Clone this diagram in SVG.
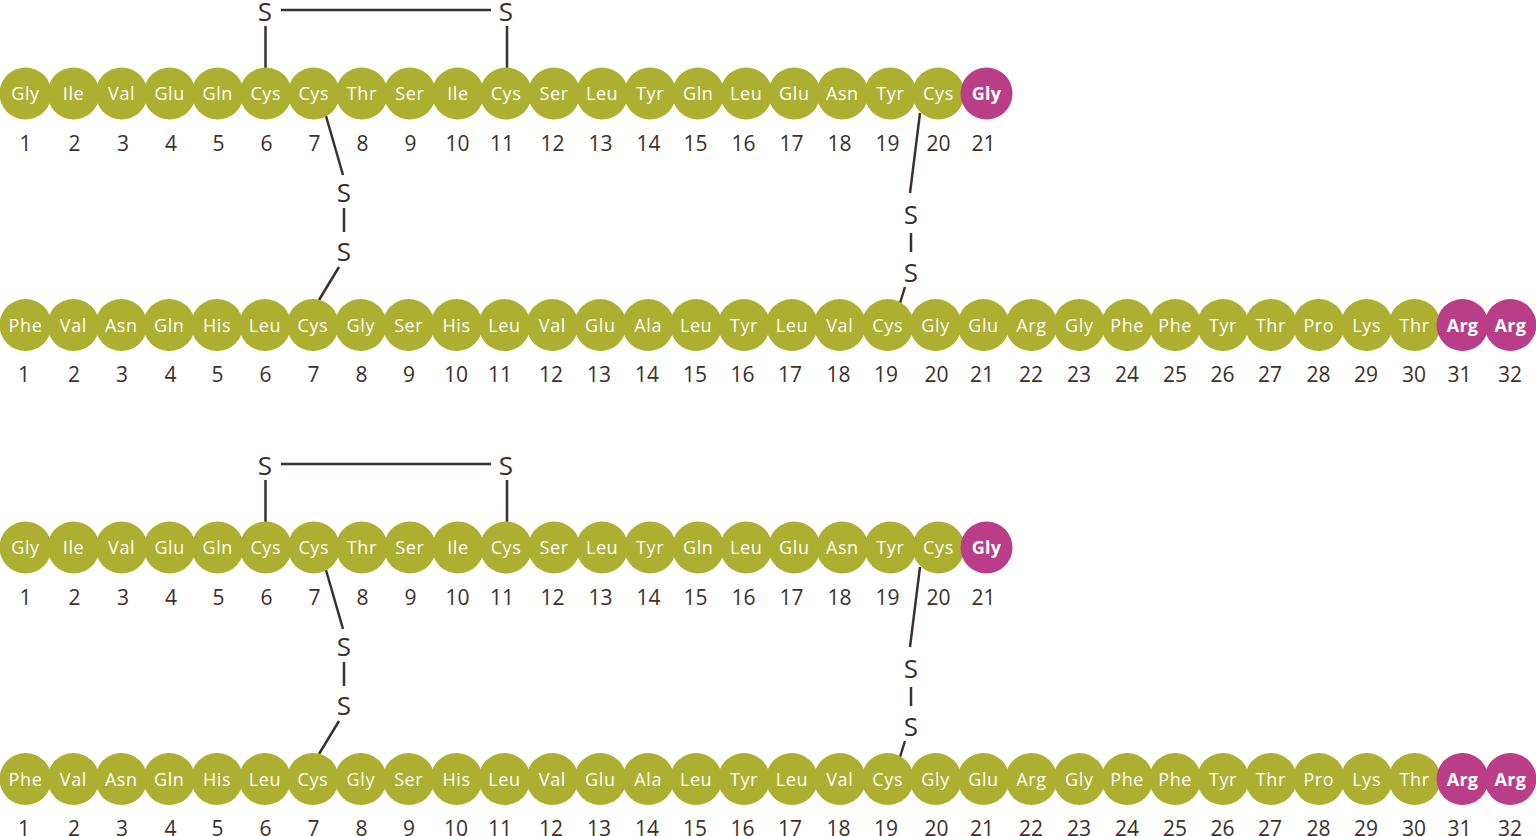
<svg xmlns="http://www.w3.org/2000/svg" width="1536" height="836" viewBox="0 0 1536 836">
<style>
.n circle{fill:#ADAF31}
.m circle{fill:#B93D87}
.n text,.m text{fill:#fff;font-family:"Open Sans","Liberation Sans",sans-serif;font-size:18px;letter-spacing:0.6px;text-anchor:middle}
.m text{font-weight:bold;letter-spacing:0.3px}
.num{fill:#3B302E;font-family:"Open Sans","Liberation Sans",sans-serif;font-size:21px;text-anchor:middle}
.s{fill:#3B302E;font-family:"Open Sans","Liberation Sans",sans-serif;font-size:26px;text-anchor:middle}
.c line{stroke:#3B302E;stroke-width:2.5;fill:none}
</style>
<rect width="1536" height="836" fill="#fff"/>
<g id="top">
<g id="top-connectors" class="c">
<line x1="281" y1="10" x2="491" y2="10"/>
<line x1="265.5" y1="26" x2="265.5" y2="68"/>
<line x1="507" y1="26" x2="507" y2="68"/>
<line x1="326" y1="116" x2="343" y2="175"/>
<line x1="344" y1="208" x2="344" y2="232"/>
<line x1="339" y1="267" x2="319" y2="300"/>
<line x1="920" y1="113" x2="910" y2="193"/>
<line x1="911" y1="233" x2="911" y2="252"/>
<line x1="905" y1="287" x2="900" y2="303"/>
</g>
<g id="top-sulfur">
<text class="s" x="265" y="20.5">S</text>
<text class="s" x="506" y="20.5">S</text>
<text class="s" x="344" y="202">S</text>
<text class="s" x="344" y="261">S</text>
<text class="s" x="911" y="224">S</text>
<text class="s" x="911" y="282">S</text>
</g>
<g id="top-chainA">
<g id="tA1" class="n"><circle cx="25.5" cy="93.5" r="26"/><text x="25.5" y="100">Gly</text></g>
<g id="tA2" class="n"><circle cx="73.55" cy="93.5" r="26"/><text x="73.55" y="100">Ile</text></g>
<g id="tA3" class="n"><circle cx="121.6" cy="93.5" r="26"/><text x="121.6" y="100">Val</text></g>
<g id="tA4" class="n"><circle cx="169.65" cy="93.5" r="26"/><text x="169.65" y="100">Glu</text></g>
<g id="tA5" class="n"><circle cx="217.7" cy="93.5" r="26"/><text x="217.7" y="100">Gln</text></g>
<g id="tA6" class="n"><circle cx="265.75" cy="93.5" r="26"/><text x="265.75" y="100">Cys</text></g>
<g id="tA7" class="n"><circle cx="313.8" cy="93.5" r="26"/><text x="313.8" y="100">Cys</text></g>
<g id="tA8" class="n"><circle cx="361.85" cy="93.5" r="26"/><text x="361.85" y="100">Thr</text></g>
<g id="tA9" class="n"><circle cx="409.9" cy="93.5" r="26"/><text x="409.9" y="100">Ser</text></g>
<g id="tA10" class="n"><circle cx="457.95" cy="93.5" r="26"/><text x="457.95" y="100">Ile</text></g>
<g id="tA11" class="n"><circle cx="506" cy="93.5" r="26"/><text x="506" y="100">Cys</text></g>
<g id="tA12" class="n"><circle cx="554.05" cy="93.5" r="26"/><text x="554.05" y="100">Ser</text></g>
<g id="tA13" class="n"><circle cx="602.1" cy="93.5" r="26"/><text x="602.1" y="100">Leu</text></g>
<g id="tA14" class="n"><circle cx="650.15" cy="93.5" r="26"/><text x="650.15" y="100">Tyr</text></g>
<g id="tA15" class="n"><circle cx="698.2" cy="93.5" r="26"/><text x="698.2" y="100">Gln</text></g>
<g id="tA16" class="n"><circle cx="746.25" cy="93.5" r="26"/><text x="746.25" y="100">Leu</text></g>
<g id="tA17" class="n"><circle cx="794.3" cy="93.5" r="26"/><text x="794.3" y="100">Glu</text></g>
<g id="tA18" class="n"><circle cx="842.35" cy="93.5" r="26"/><text x="842.35" y="100">Asn</text></g>
<g id="tA19" class="n"><circle cx="890.4" cy="93.5" r="26"/><text x="890.4" y="100">Tyr</text></g>
<g id="tA20" class="n"><circle cx="938.45" cy="93.5" r="26"/><text x="938.45" y="100">Cys</text></g>
<g id="tA21" class="m"><circle cx="986.5" cy="93.5" r="26"/><text x="986.5" y="100">Gly</text></g>
</g>
<g id="top-numsA">
<text class="num" x="25.5" y="151">1</text><text class="num" x="74.5" y="151">2</text><text class="num" x="123" y="151">3</text><text class="num" x="171" y="151">4</text><text class="num" x="218.5" y="151">5</text><text class="num" x="266.5" y="151">6</text><text class="num" x="314.5" y="151">7</text><text class="num" x="362.5" y="151">8</text><text class="num" x="410.5" y="151">9</text><text class="num" x="457.5" y="151">10</text><text class="num" x="502" y="151">11</text><text class="num" x="552.5" y="151">12</text><text class="num" x="600.5" y="151">13</text><text class="num" x="648.5" y="151">14</text><text class="num" x="695.5" y="151">15</text><text class="num" x="743.5" y="151">16</text><text class="num" x="791.5" y="151">17</text><text class="num" x="839.5" y="151">18</text><text class="num" x="887.5" y="151">19</text><text class="num" x="938.5" y="151">20</text><text class="num" x="983.5" y="151">21</text>
</g>
<g id="top-chainB">
<g id="tB1" class="n"><circle cx="25.5" cy="325" r="26"/><text x="25.5" y="331.5">Phe</text></g>
<g id="tB2" class="n"><circle cx="73.4" cy="325" r="26"/><text x="73.4" y="331.5">Val</text></g>
<g id="tB3" class="n"><circle cx="121.3" cy="325" r="26"/><text x="121.3" y="331.5">Asn</text></g>
<g id="tB4" class="n"><circle cx="169.2" cy="325" r="26"/><text x="169.2" y="331.5">Gln</text></g>
<g id="tB5" class="n"><circle cx="217.1" cy="325" r="26"/><text x="217.1" y="331.5">His</text></g>
<g id="tB6" class="n"><circle cx="265" cy="325" r="26"/><text x="265" y="331.5">Leu</text></g>
<g id="tB7" class="n"><circle cx="312.9" cy="325" r="26"/><text x="312.9" y="331.5">Cys</text></g>
<g id="tB8" class="n"><circle cx="360.8" cy="325" r="26"/><text x="360.8" y="331.5">Gly</text></g>
<g id="tB9" class="n"><circle cx="408.7" cy="325" r="26"/><text x="408.7" y="331.5">Ser</text></g>
<g id="tB10" class="n"><circle cx="456.6" cy="325" r="26"/><text x="456.6" y="331.5">His</text></g>
<g id="tB11" class="n"><circle cx="504.5" cy="325" r="26"/><text x="504.5" y="331.5">Leu</text></g>
<g id="tB12" class="n"><circle cx="552.4" cy="325" r="26"/><text x="552.4" y="331.5">Val</text></g>
<g id="tB13" class="n"><circle cx="600.3" cy="325" r="26"/><text x="600.3" y="331.5">Glu</text></g>
<g id="tB14" class="n"><circle cx="648.2" cy="325" r="26"/><text x="648.2" y="331.5">Ala</text></g>
<g id="tB15" class="n"><circle cx="696.1" cy="325" r="26"/><text x="696.1" y="331.5">Leu</text></g>
<g id="tB16" class="n"><circle cx="744" cy="325" r="26"/><text x="744" y="331.5">Tyr</text></g>
<g id="tB17" class="n"><circle cx="791.9" cy="325" r="26"/><text x="791.9" y="331.5">Leu</text></g>
<g id="tB18" class="n"><circle cx="839.8" cy="325" r="26"/><text x="839.8" y="331.5">Val</text></g>
<g id="tB19" class="n"><circle cx="887.7" cy="325" r="26"/><text x="887.7" y="331.5">Cys</text></g>
<g id="tB20" class="n"><circle cx="935.6" cy="325" r="26"/><text x="935.6" y="331.5">Gly</text></g>
<g id="tB21" class="n"><circle cx="983.5" cy="325" r="26"/><text x="983.5" y="331.5">Glu</text></g>
<g id="tB22" class="n"><circle cx="1031.4" cy="325" r="26"/><text x="1031.4" y="331.5">Arg</text></g>
<g id="tB23" class="n"><circle cx="1079.3" cy="325" r="26"/><text x="1079.3" y="331.5">Gly</text></g>
<g id="tB24" class="n"><circle cx="1127.2" cy="325" r="26"/><text x="1127.2" y="331.5">Phe</text></g>
<g id="tB25" class="n"><circle cx="1175.1" cy="325" r="26"/><text x="1175.1" y="331.5">Phe</text></g>
<g id="tB26" class="n"><circle cx="1223" cy="325" r="26"/><text x="1223" y="331.5">Tyr</text></g>
<g id="tB27" class="n"><circle cx="1270.9" cy="325" r="26"/><text x="1270.9" y="331.5">Thr</text></g>
<g id="tB28" class="n"><circle cx="1318.8" cy="325" r="26"/><text x="1318.8" y="331.5">Pro</text></g>
<g id="tB29" class="n"><circle cx="1366.7" cy="325" r="26"/><text x="1366.7" y="331.5">Lys</text></g>
<g id="tB30" class="n"><circle cx="1414.6" cy="325" r="26"/><text x="1414.6" y="331.5">Thr</text></g>
<g id="tB31" class="m"><circle cx="1462.5" cy="325" r="26"/><text x="1462.5" y="331.5">Arg</text></g>
<g id="tB32" class="m"><circle cx="1510.4" cy="325" r="26"/><text x="1510.4" y="331.5">Arg</text></g>
</g>
<g id="top-numsB">
<text class="num" x="24" y="382">1</text><text class="num" x="74" y="382">2</text><text class="num" x="122" y="382">3</text><text class="num" x="170.5" y="382">4</text><text class="num" x="217.5" y="382">5</text><text class="num" x="265.5" y="382">6</text><text class="num" x="313.5" y="382">7</text><text class="num" x="361.5" y="382">8</text><text class="num" x="409" y="382">9</text><text class="num" x="456" y="382">10</text><text class="num" x="500" y="382">11</text><text class="num" x="551" y="382">12</text><text class="num" x="599" y="382">13</text><text class="num" x="647" y="382">14</text><text class="num" x="695" y="382">15</text><text class="num" x="742.5" y="382">16</text><text class="num" x="790" y="382">17</text><text class="num" x="838.5" y="382">18</text><text class="num" x="886" y="382">19</text><text class="num" x="936.5" y="382">20</text><text class="num" x="982" y="382">21</text><text class="num" x="1031" y="382">22</text><text class="num" x="1079" y="382">23</text><text class="num" x="1127" y="382">24</text><text class="num" x="1175" y="382">25</text><text class="num" x="1222.5" y="382">26</text><text class="num" x="1270" y="382">27</text><text class="num" x="1318.5" y="382">28</text><text class="num" x="1366" y="382">29</text><text class="num" x="1414" y="382">30</text><text class="num" x="1459.5" y="382">31</text><text class="num" x="1510" y="382">32</text>
</g>
</g>
<g id="bottom" transform="translate(0,454)">
<g id="bottom-connectors" class="c">
<line x1="281" y1="10" x2="491" y2="10"/>
<line x1="265.5" y1="26" x2="265.5" y2="68"/>
<line x1="507" y1="26" x2="507" y2="68"/>
<line x1="326" y1="116" x2="343" y2="175"/>
<line x1="344" y1="208" x2="344" y2="232"/>
<line x1="339" y1="267" x2="319" y2="300"/>
<line x1="920" y1="113" x2="910" y2="193"/>
<line x1="911" y1="233" x2="911" y2="252"/>
<line x1="905" y1="287" x2="900" y2="303"/>
</g>
<g id="bottom-sulfur">
<text class="s" x="265" y="20.5">S</text>
<text class="s" x="506" y="20.5">S</text>
<text class="s" x="344" y="202">S</text>
<text class="s" x="344" y="261">S</text>
<text class="s" x="911" y="224">S</text>
<text class="s" x="911" y="282">S</text>
</g>
<g id="bottom-chainA">
<g id="bA1" class="n"><circle cx="25.5" cy="93.5" r="26"/><text x="25.5" y="100">Gly</text></g>
<g id="bA2" class="n"><circle cx="73.55" cy="93.5" r="26"/><text x="73.55" y="100">Ile</text></g>
<g id="bA3" class="n"><circle cx="121.6" cy="93.5" r="26"/><text x="121.6" y="100">Val</text></g>
<g id="bA4" class="n"><circle cx="169.65" cy="93.5" r="26"/><text x="169.65" y="100">Glu</text></g>
<g id="bA5" class="n"><circle cx="217.7" cy="93.5" r="26"/><text x="217.7" y="100">Gln</text></g>
<g id="bA6" class="n"><circle cx="265.75" cy="93.5" r="26"/><text x="265.75" y="100">Cys</text></g>
<g id="bA7" class="n"><circle cx="313.8" cy="93.5" r="26"/><text x="313.8" y="100">Cys</text></g>
<g id="bA8" class="n"><circle cx="361.85" cy="93.5" r="26"/><text x="361.85" y="100">Thr</text></g>
<g id="bA9" class="n"><circle cx="409.9" cy="93.5" r="26"/><text x="409.9" y="100">Ser</text></g>
<g id="bA10" class="n"><circle cx="457.95" cy="93.5" r="26"/><text x="457.95" y="100">Ile</text></g>
<g id="bA11" class="n"><circle cx="506" cy="93.5" r="26"/><text x="506" y="100">Cys</text></g>
<g id="bA12" class="n"><circle cx="554.05" cy="93.5" r="26"/><text x="554.05" y="100">Ser</text></g>
<g id="bA13" class="n"><circle cx="602.1" cy="93.5" r="26"/><text x="602.1" y="100">Leu</text></g>
<g id="bA14" class="n"><circle cx="650.15" cy="93.5" r="26"/><text x="650.15" y="100">Tyr</text></g>
<g id="bA15" class="n"><circle cx="698.2" cy="93.5" r="26"/><text x="698.2" y="100">Gln</text></g>
<g id="bA16" class="n"><circle cx="746.25" cy="93.5" r="26"/><text x="746.25" y="100">Leu</text></g>
<g id="bA17" class="n"><circle cx="794.3" cy="93.5" r="26"/><text x="794.3" y="100">Glu</text></g>
<g id="bA18" class="n"><circle cx="842.35" cy="93.5" r="26"/><text x="842.35" y="100">Asn</text></g>
<g id="bA19" class="n"><circle cx="890.4" cy="93.5" r="26"/><text x="890.4" y="100">Tyr</text></g>
<g id="bA20" class="n"><circle cx="938.45" cy="93.5" r="26"/><text x="938.45" y="100">Cys</text></g>
<g id="bA21" class="m"><circle cx="986.5" cy="93.5" r="26"/><text x="986.5" y="100">Gly</text></g>
</g>
<g id="bottom-numsA">
<text class="num" x="25.5" y="151">1</text><text class="num" x="74.5" y="151">2</text><text class="num" x="123" y="151">3</text><text class="num" x="171" y="151">4</text><text class="num" x="218.5" y="151">5</text><text class="num" x="266.5" y="151">6</text><text class="num" x="314.5" y="151">7</text><text class="num" x="362.5" y="151">8</text><text class="num" x="410.5" y="151">9</text><text class="num" x="457.5" y="151">10</text><text class="num" x="502" y="151">11</text><text class="num" x="552.5" y="151">12</text><text class="num" x="600.5" y="151">13</text><text class="num" x="648.5" y="151">14</text><text class="num" x="695.5" y="151">15</text><text class="num" x="743.5" y="151">16</text><text class="num" x="791.5" y="151">17</text><text class="num" x="839.5" y="151">18</text><text class="num" x="887.5" y="151">19</text><text class="num" x="938.5" y="151">20</text><text class="num" x="983.5" y="151">21</text>
</g>
<g id="bottom-chainB">
<g id="bB1" class="n"><circle cx="25.5" cy="325" r="26"/><text x="25.5" y="331.5">Phe</text></g>
<g id="bB2" class="n"><circle cx="73.4" cy="325" r="26"/><text x="73.4" y="331.5">Val</text></g>
<g id="bB3" class="n"><circle cx="121.3" cy="325" r="26"/><text x="121.3" y="331.5">Asn</text></g>
<g id="bB4" class="n"><circle cx="169.2" cy="325" r="26"/><text x="169.2" y="331.5">Gln</text></g>
<g id="bB5" class="n"><circle cx="217.1" cy="325" r="26"/><text x="217.1" y="331.5">His</text></g>
<g id="bB6" class="n"><circle cx="265" cy="325" r="26"/><text x="265" y="331.5">Leu</text></g>
<g id="bB7" class="n"><circle cx="312.9" cy="325" r="26"/><text x="312.9" y="331.5">Cys</text></g>
<g id="bB8" class="n"><circle cx="360.8" cy="325" r="26"/><text x="360.8" y="331.5">Gly</text></g>
<g id="bB9" class="n"><circle cx="408.7" cy="325" r="26"/><text x="408.7" y="331.5">Ser</text></g>
<g id="bB10" class="n"><circle cx="456.6" cy="325" r="26"/><text x="456.6" y="331.5">His</text></g>
<g id="bB11" class="n"><circle cx="504.5" cy="325" r="26"/><text x="504.5" y="331.5">Leu</text></g>
<g id="bB12" class="n"><circle cx="552.4" cy="325" r="26"/><text x="552.4" y="331.5">Val</text></g>
<g id="bB13" class="n"><circle cx="600.3" cy="325" r="26"/><text x="600.3" y="331.5">Glu</text></g>
<g id="bB14" class="n"><circle cx="648.2" cy="325" r="26"/><text x="648.2" y="331.5">Ala</text></g>
<g id="bB15" class="n"><circle cx="696.1" cy="325" r="26"/><text x="696.1" y="331.5">Leu</text></g>
<g id="bB16" class="n"><circle cx="744" cy="325" r="26"/><text x="744" y="331.5">Tyr</text></g>
<g id="bB17" class="n"><circle cx="791.9" cy="325" r="26"/><text x="791.9" y="331.5">Leu</text></g>
<g id="bB18" class="n"><circle cx="839.8" cy="325" r="26"/><text x="839.8" y="331.5">Val</text></g>
<g id="bB19" class="n"><circle cx="887.7" cy="325" r="26"/><text x="887.7" y="331.5">Cys</text></g>
<g id="bB20" class="n"><circle cx="935.6" cy="325" r="26"/><text x="935.6" y="331.5">Gly</text></g>
<g id="bB21" class="n"><circle cx="983.5" cy="325" r="26"/><text x="983.5" y="331.5">Glu</text></g>
<g id="bB22" class="n"><circle cx="1031.4" cy="325" r="26"/><text x="1031.4" y="331.5">Arg</text></g>
<g id="bB23" class="n"><circle cx="1079.3" cy="325" r="26"/><text x="1079.3" y="331.5">Gly</text></g>
<g id="bB24" class="n"><circle cx="1127.2" cy="325" r="26"/><text x="1127.2" y="331.5">Phe</text></g>
<g id="bB25" class="n"><circle cx="1175.1" cy="325" r="26"/><text x="1175.1" y="331.5">Phe</text></g>
<g id="bB26" class="n"><circle cx="1223" cy="325" r="26"/><text x="1223" y="331.5">Tyr</text></g>
<g id="bB27" class="n"><circle cx="1270.9" cy="325" r="26"/><text x="1270.9" y="331.5">Thr</text></g>
<g id="bB28" class="n"><circle cx="1318.8" cy="325" r="26"/><text x="1318.8" y="331.5">Pro</text></g>
<g id="bB29" class="n"><circle cx="1366.7" cy="325" r="26"/><text x="1366.7" y="331.5">Lys</text></g>
<g id="bB30" class="n"><circle cx="1414.6" cy="325" r="26"/><text x="1414.6" y="331.5">Thr</text></g>
<g id="bB31" class="m"><circle cx="1462.5" cy="325" r="26"/><text x="1462.5" y="331.5">Arg</text></g>
<g id="bB32" class="m"><circle cx="1510.4" cy="325" r="26"/><text x="1510.4" y="331.5">Arg</text></g>
</g>
<g id="bottom-numsB">
<text class="num" x="24" y="382">1</text><text class="num" x="74" y="382">2</text><text class="num" x="122" y="382">3</text><text class="num" x="170.5" y="382">4</text><text class="num" x="217.5" y="382">5</text><text class="num" x="265.5" y="382">6</text><text class="num" x="313.5" y="382">7</text><text class="num" x="361.5" y="382">8</text><text class="num" x="409" y="382">9</text><text class="num" x="456" y="382">10</text><text class="num" x="500" y="382">11</text><text class="num" x="551" y="382">12</text><text class="num" x="599" y="382">13</text><text class="num" x="647" y="382">14</text><text class="num" x="695" y="382">15</text><text class="num" x="742.5" y="382">16</text><text class="num" x="790" y="382">17</text><text class="num" x="838.5" y="382">18</text><text class="num" x="886" y="382">19</text><text class="num" x="936.5" y="382">20</text><text class="num" x="982" y="382">21</text><text class="num" x="1031" y="382">22</text><text class="num" x="1079" y="382">23</text><text class="num" x="1127" y="382">24</text><text class="num" x="1175" y="382">25</text><text class="num" x="1222.5" y="382">26</text><text class="num" x="1270" y="382">27</text><text class="num" x="1318.5" y="382">28</text><text class="num" x="1366" y="382">29</text><text class="num" x="1414" y="382">30</text><text class="num" x="1459.5" y="382">31</text><text class="num" x="1510" y="382">32</text>
</g>
</g>
</svg>
